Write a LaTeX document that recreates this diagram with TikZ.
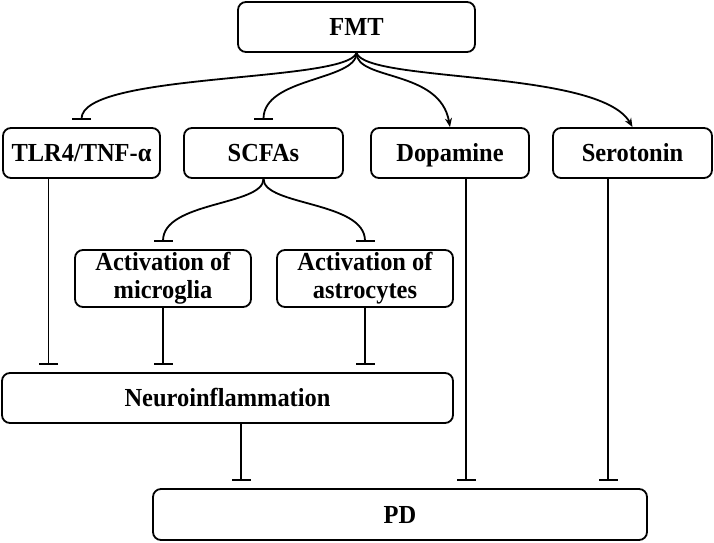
\documentclass[tikz,border=0pt]{standalone}
\usepackage{fontspec}
\setmainfont{Liberation Serif}[FakeStretch=0.94]
\usetikzlibrary{arrows.meta}

\begin{document}
\begin{tikzpicture}[
  x=1pt, y=-1pt,
  box/.style={draw, line width=1.8pt, rounded corners=8pt, minimum height=50pt,
              align=center, inner sep=0pt, font=\fontsize{26}{28}\selectfont\bfseries},
  single/.style={box, text height=17pt, text depth=0pt},
  link/.style={line width=1.8pt},
  activate/.style={link, -{Stealth[length=9pt,width=7pt]}},
  inhibit/.style={link, -{Bar[width=19pt]}, shorten >=7pt}
]
  \useasboundingbox (0,0) rectangle (714,542);

  \node[single, minimum width=237pt] (fmt)   at (356.5, 27)  {FMT};
  \node[single, minimum width=157pt] (tlr)   at (81.5, 153)  {TLR4/TNF-α};
  \node[single, minimum width=159pt] (scfa)  at (263.5, 153) {SCFAs};
  \node[single, minimum width=158pt] (dopa)  at (450, 153)   {Dopamine};
  \node[single, minimum width=159pt] (sero)  at (632.5, 153) {Serotonin};
  \node[box, minimum width=176pt, minimum height=57pt] (micro) at (163, 278.5) {Activation of\\microglia};
  \node[box, minimum width=176pt, minimum height=57pt] (astro) at (365, 278.5) {Activation of\\astrocytes};
  \node[single, minimum width=451pt] (neuro) at (227.5, 398) {Neuroinflammation};
  \node[single, minimum width=494pt, minimum height=51pt] (pd) at (400, 514.5) {PD};

  % FMT branches
  \draw[inhibit]  (fmt.south) .. controls +(-10,30) and +(0,-55) .. (tlr.north);
  \draw[inhibit]  (fmt.south) .. controls +(0,28) and +(0,-50) .. (scfa.north);
  \draw[activate] (fmt.south) .. controls +(0,28) and +(-10,-58) .. (dopa.north);
  \draw[activate] (fmt.south) .. controls +(10,30) and +(-33,-58) .. (sero.north);

  % SCFAs branches
  \draw[inhibit] (scfa.south) .. controls +(0,27) and +(0,-48) .. (micro.north);
  \draw[inhibit] (scfa.south) .. controls +(0,27) and +(0,-48) .. (astro.north);

  % into neuroinflammation
  \draw[inhibit] ([xshift=-33pt]tlr.south) -- ([xshift=-33pt]tlr.south |- neuro.north);
  \draw[inhibit] (micro.south) -- (micro.south |- neuro.north);
  \draw[inhibit] (astro.south) -- (astro.south |- neuro.north);

  % into PD
  \draw[inhibit] ([xshift=13.5pt]neuro.south) -- ([xshift=13.5pt]neuro.south |- pd.north);
  \draw[inhibit] ([xshift=16pt]dopa.south) -- ([xshift=16pt]dopa.south |- pd.north);
  \draw[inhibit] ([xshift=-24.5pt]sero.south) -- ([xshift=-24.5pt]sero.south |- pd.north);
\end{tikzpicture}
\end{document}
